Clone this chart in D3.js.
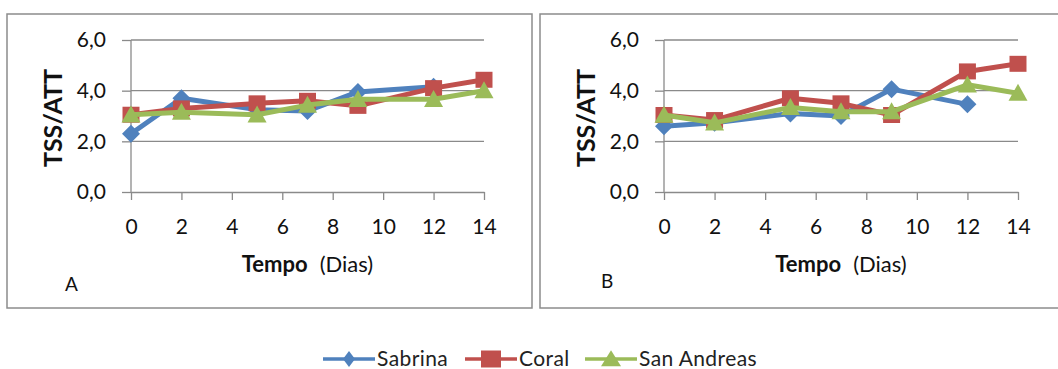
<!DOCTYPE html>
<html>
<head>
<meta charset="utf-8">
<script src="https://d3js.org/d3.v7.min.js"></script>
<style>
  body { margin: 0; background: #fff; }
  svg { display: block; font-family: Lato, "Open Sans", sans-serif; }
</style>
</head>
<body>
<div id="chart"></div>
<script>
// values
var days = [0, 2, 5, 7, 9, 12, 14];
var xTicks = [0, 2, 4, 6, 8, 10, 12, 14];
var yTicks = [0, 2, 4, 6];
var seriesNames = ["Sabrina", "Coral", "San Andreas"];

var sabrinaA = [2.3, 3.7, 3.25, 3.2, 3.95, 4.15, null];
var coralA = [3.05, 3.3, 3.5, 3.6, 3.4, 4.1, 4.43];
var sanAndreasA = [3.05, 3.15, 3.05, 3.43, 3.66, 3.66, 4.0];

var sabrinaB = [2.6, 2.73, 3.1, 3.0, 4.06, 3.46, null];
var coralB = [3.04, 2.84, 3.7, 3.5, 3.04, 4.76, 5.06];
var sanAndreasB = [3.04, 2.73, 3.34, 3.17, 3.17, 4.23, 3.9];

var colours = ["#4F81BD", "#C0504D", "#9BBB59"];

// marker shapes: w/h in pixels
function diamond(w, h) {
    return {draw: function(c) {
        c.moveTo(0, -h / 2); c.lineTo(w / 2, 0); c.lineTo(0, h / 2); c.lineTo(-w / 2, 0); c.closePath();
    }};
}
function square(w, h) {
    return {draw: function(c) { c.rect(-w / 2, -h / 2, w, h); }};
}
function triangle(w, h) {
    return {draw: function(c) {
        c.moveTo(0, -h * 0.55); c.lineTo(w / 2, h * 0.45); c.lineTo(-w / 2, h * 0.45); c.closePath();
    }};
}
var shapes = [diamond(18, 18), square(17, 16), triangle(19, 17)];
var legendShapes = [diamond(12, 16), square(20, 17), triangle(20, 16)];

var width = 1058,
    height = 369;

var svg = d3.select("#chart")
    .append("svg")
    .attr("width", width)
    .attr("height", height);

var fmt = d3.formatLocale({decimal: ",", thousands: ".", grouping: [3], currency: ["", ""]}).format(".1f");

function drawPanel(box, plot, series, letter) {
    // frame
    svg.append("rect")
        .attr("x", box.x).attr("y", box.y)
        .attr("width", box.w).attr("height", box.h)
        .attr("fill", "none")
        .attr("stroke", "#8c8c8c")
        .attr("stroke-width", 1.5);

    var x = d3.scaleLinear().domain([0, 14]).range([plot.left, plot.right]);
    var y = d3.scaleLinear().domain([0, 6]).range([plot.bottom, plot.top]);

    var g = svg.append("g");

    // gridlines
    g.append("g")
        .selectAll("line")
        .data(yTicks.filter(function(d) { return d > 0; }))
        .enter().append("line")
        .attr("x1", plot.left).attr("x2", plot.right)
        .attr("y1", function(d) { return y(d); })
        .attr("y2", function(d) { return y(d); })
        .attr("stroke", "#8a8a8a")
        .attr("stroke-width", 1.3);

    var yAxis = g.append("g")
        .attr("transform", "translate(" + plot.left + ",0)")
        .call(d3.axisLeft(y).tickValues(yTicks).tickFormat(fmt).tickSize(9).tickPadding(16));

    var xAxis = g.append("g")
        .attr("transform", "translate(0," + plot.bottom + ")")
        .call(d3.axisBottom(x).tickValues(xTicks).tickSize(8).tickPadding(19).tickSizeOuter(0));

    [yAxis, xAxis].forEach(function(a) {
        a.select(".domain").attr("stroke", "#8a8a8a").attr("stroke-width", 1.3);
        a.selectAll(".tick line").attr("stroke", "#8a8a8a").attr("stroke-width", 1.3);
        a.selectAll("text")
            .attr("fill", "#111")
            .style("font-size", "21px")
            .style("font-family", "Lato, 'Open Sans', sans-serif");
    });
    yAxis.select(".domain").attr("d", "M0," + plot.bottom + "V" + plot.top);

    // axis titles
    g.append("text")
        .attr("transform", "translate(" + (plot.left - 69) + "," + ((plot.top + plot.bottom) / 2 + 2) + ") rotate(-90)")
        .attr("text-anchor", "middle")
        .attr("font-weight", "bold")
        .attr("font-size", 25)
        .attr("fill", "#111")
        .text("TSS/ATT");

    var xt = g.append("text")
        .attr("x", (plot.left + plot.right) / 2)
        .attr("y", plot.bottom + 80)
        .attr("text-anchor", "middle")
        .attr("font-size", 22)
        .attr("fill", "#111");
    xt.append("tspan").attr("font-weight", "bold").text("Tempo");
    xt.append("tspan").attr("dx", 12).text("(Dias)");

    g.append("text")
        .attr("x", box.x + letter.dx)
        .attr("y", box.y + letter.dy)
        .attr("font-size", 19)
        .attr("fill", "#111")
        .text(letter.text);

    // series
    series.forEach(function(values, i) {
        var pts = days.map(function(d, j) { return {x: d, y: values[j]}; })
            .filter(function(p) { return p.y !== null; });

        var line = d3.line()
            .x(function(p) { return x(p.x); })
            .y(function(p) { return y(p.y); });

        g.append("path")
            .datum(pts)
            .attr("d", line)
            .attr("fill", "none")
            .attr("stroke", colours[i])
            .attr("stroke-width", 5)
            .attr("stroke-linejoin", "round");

        g.append("g")
            .selectAll("path")
            .data(pts)
            .enter().append("path")
            .attr("transform", function(p) { return "translate(" + x(p.x) + "," + y(p.y) + ")"; })
            .attr("d", d3.symbol().type(shapes[i]))
            .attr("fill", colours[i]);
    });
}

drawPanel({x: 7, y: 14, w: 525, h: 294},
    {left: 131, right: 484, top: 40, bottom: 192},
    [sabrinaA, coralA, sanAndreasA],
    {text: "A", dx: 58, dy: 277});

drawPanel({x: 540, y: 14, w: 525, h: 294},
    {left: 664, right: 1018, top: 40, bottom: 192},
    [sabrinaB, coralB, sanAndreasB],
    {text: "B", dx: 61, dy: 274});

// legend
var legendX = [323, 465, 585];
var legend = svg.append("g");
seriesNames.forEach(function(name, i) {
    var lx = legendX[i];
    legend.append("line")
        .attr("x1", lx).attr("x2", lx + 52)
        .attr("y1", 359).attr("y2", 359)
        .attr("stroke", colours[i])
        .attr("stroke-width", 3.5);
    legend.append("path")
        .attr("transform", "translate(" + (lx + 26) + ",359)")
        .attr("d", d3.symbol().type(legendShapes[i]))
        .attr("fill", colours[i]);
    legend.append("text")
        .attr("x", lx + 54)
        .attr("y", 366)
        .attr("font-size", 21)
        .attr("letter-spacing", 0.4)
        .attr("fill", "#222")
        .text(name);
});
</script>
</body>
</html>
